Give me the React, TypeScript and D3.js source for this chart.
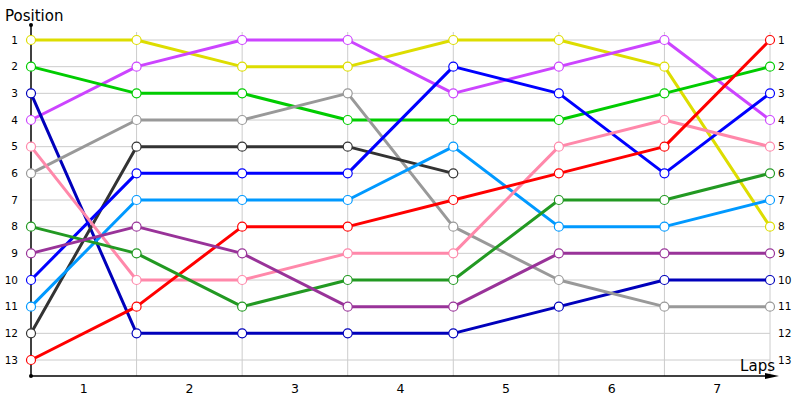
import React from "react";
import * as d3 from "d3";

const laps = [0, 1, 2, 3, 4, 5, 6, 7];
const lapLabels = ["1", "2", "3", "4", "5", "6", "7"];
const positions = [1, 2, 3, 4, 5, 6, 7, 8, 9, 10, 11, 12, 13];

const seriesNames = ["yellow", "magenta", "green", "navy", "grey", "black", "blue", "lightblue", "pink", "red", "darkgreen", "purple"];
const seriesColors = ["#dddd00", "#cc44ff", "#00cc00", "#0000bb", "#999999", "#333333", "#0000ff", "#0099ff", "#ff88aa", "#ff0000", "#229922", "#993399"];
const yellow = [1, 1, 2, 2, 1, 1, 2, 8];
const magenta = [4, 2, 1, 1, 3, 2, 1, 4];
const green = [2, 3, 3, 4, 4, 4, 3, 2];
const navy = [3, 12, 12, 12, 12, 11, 10, 10];
const grey = [6, 4, 4, 3, 8, 10, 11, 11];
const black = [12, 5, 5, 5, 6];
const blue = [10, 6, 6, 6, 2, 3, 6, 3];
const lightblue = [11, 7, 7, 7, 5, 8, 8, 7];
const pink = [5, 10, 10, 9, 9, 5, 4, 5];
const red = [13, 11, 8, 8, 7, 6, 5, 1];
const darkgreen = [8, 9, 11, 10, 10, 7, 7, 6];
const purple = [9, 8, 9, 11, 11, 9, 9, 9];
const seriesValues = [yellow, magenta, green, navy, grey, black, blue, lightblue, pink, red, darkgreen, purple];

export default function App() {
  const W = 800, H = 400;
  const x0 = 31, x1 = 770, yTop = 40, yBot = 360, axisY = 376;
  const x = d3.scaleLinear().domain([0, 7]).range([x0, x1]);
  const y = d3.scaleLinear().domain([1, 13]).range([yTop, yBot]);
  const line = d3.line<number>().x((_, i) => x(laps[i])).y((d) => y(d));
  const font = "Tahoma, 'DejaVu Sans', Verdana, sans-serif";
  return (
    <svg width={W} height={H} style={{ position: "absolute", left: 0, top: 0 }} fontFamily={font}>
      <rect width={W} height={H} fill="#fff" />
      {positions.map((p) => (
        <line key={"h" + p} x1={x0} x2={x1} y1={y(p)} y2={y(p)} stroke="#cccccc" strokeWidth={1} />
      ))}
      {laps.slice(1).map((l) => (
        <line key={"v" + l} x1={x(l)} x2={x(l)} y1={32} y2={axisY} stroke="#cccccc" strokeWidth={1} />
      ))}
      {positions.map((p) => (
        <text key={"yl" + p} x={18} y={y(p)} dy="0.35em" fontSize={10.5} textAnchor="end" fill="#000">{p}</text>
      ))}
      {positions.map((p) => (
        <text key={"yr" + p} x={778} y={y(p)} dy="0.35em" fontSize={10.5} textAnchor="start" fill="#000">{p}</text>
      ))}
      {lapLabels.map((t, i) => (
        <text key={"xl" + i} x={x(i + 0.5)} y={393} fontSize={12.5} textAnchor="middle" fill="#000">{t}</text>
      ))}
      <line x1={x0} x2={x0} y1={25} y2={axisY} stroke="#000" strokeWidth={1.5} />
      <circle cx={x0} cy={25} r={2} fill="#000" />
      <circle cx={x0} cy={axisY} r={2} fill="#000" />
      <line x1={x0} x2={770} y1={axisY} y2={axisY} stroke="#000" strokeWidth={1.5} />
      <path d={`M765,${axisY - 3} L779,${axisY} L765,${axisY + 3} Z`} fill="#000" />
      <text x={5} y={21} fontSize={15} fill="#000">Position</text>
      <text x={775} y={371} fontSize={15} textAnchor="end" fill="#000">Laps</text>
      {seriesValues.map((vals, si) => (
        <path key={"s" + si} d={line(vals) || ""} fill="none" stroke={seriesColors[si]} strokeWidth={3} strokeLinejoin="round" />
      ))}
      {seriesValues.map((vals, si) =>
        vals.map((v, i) => (
          <circle key={"m" + si + "-" + i} cx={x(laps[i])} cy={y(v)} r={4.5} fill="#fff" stroke={seriesColors[si]} strokeWidth={1.2} />
        ))
      )}
    </svg>
  );
}
